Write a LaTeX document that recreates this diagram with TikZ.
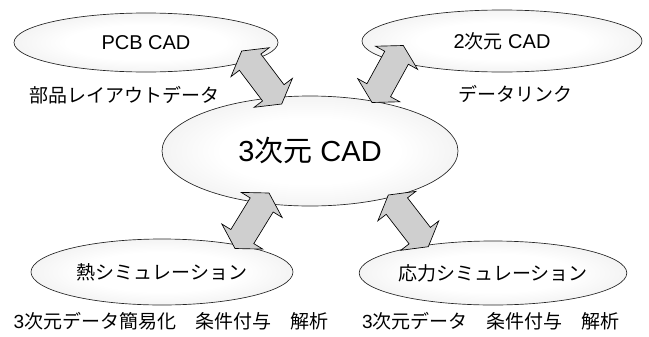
\documentclass[tikz,border=0pt]{standalone}
\usepackage{fontspec}
\setmainfont{Liberation Sans}
\newfontfamily\jp{Noto Sans CJK JP}
\usetikzlibrary{calc,shapes.geometric}
\pgfdeclareradialshading{ellsh}{\pgfpoint{0bp}{0bp}}{color(0bp)=(white);color(15bp)=(white);color(38bp)=(black!10);color(50bp)=(black!27)}
\def\arrhl{10.5pt}
\def\arrhw{18pt}
\def\arrsw{10.1pt}
\newcommand\dblarr[2]{%
  \coordinate (#1-#2-p) at ($(#1)!\arrhl!(#2)$);
  \coordinate (#1-#2-q) at ($(#2)!\arrhl!(#1)$);
  \draw[arrbody] (#1) -- ($(#1-#2-p)!\arrhw!90:(#2)$) -- ($(#1-#2-p)!\arrsw!90:(#2)$)
    -- ($(#1-#2-q)!\arrsw!-90:(#1)$) -- ($(#1-#2-q)!\arrhw!-90:(#1)$) -- (#2)
    -- ($(#1-#2-q)!\arrhw!90:(#1)$) -- ($(#1-#2-q)!\arrsw!90:(#1)$)
    -- ($(#1-#2-p)!\arrsw!-90:(#2)$) -- ($(#1-#2-p)!\arrhw!-90:(#2)$) -- cycle;
}
\tikzset{
  ell/.style={ellipse, draw=black!85, line width=0.5pt, shading=ellsh, inner sep=0pt,
    font=\fontsize{14.25pt}{17pt}\selectfont},
  bigell/.style={ell, font=\fontsize{21.75pt}{26pt}\selectfont},
  arrbody/.style={fill=black!19, draw=black, line width=0.5pt, line join=miter},
  lab/.style={inner sep=0pt, font=\fontsize{14.25pt}{17pt}\selectfont}
}
\begin{document}
\begin{tikzpicture}[x=0.75pt, y=-0.75pt]
\useasboundingbox (0,0) rectangle (649,336);
% ellipses
\node[ell, minimum width=198pt, minimum height=44.25pt] (pcb) at (146,42.5) {\fontsize{15pt}{17pt}\selectfont PCB CAD};
\node[ell, minimum width=210pt, minimum height=46.5pt] (cad2) at (502,41) {\fontsize{15pt}{17pt}\selectfont 2{\jp\fontsize{14.25pt}{17pt}\selectfont 次元} CAD};
\node[bigell, minimum width=222pt, minimum height=82.5pt] (cad3) at (310,151) {3{\jp 次元} CAD};
\node[ell, minimum width=196.5pt, minimum height=49.5pt] (heat) at (162,272) {\jp 熱シミュレーション};
\node[ell, minimum width=198pt, minimum height=48pt] (stress) at (493,273) {\jp 応力シミュレーション};
% arrow end points
\coordinate (a1s) at (241.7,51);
\coordinate (a1e) at (281.7,104);
\coordinate (a2s) at (403.3,45.5);
\coordinate (a2e) at (372,102.5);
\coordinate (a3s) at (269,193);
\coordinate (a3e) at (235,248.5);
\coordinate (a4s) at (388.3,195);
\coordinate (a4e) at (428.3,246.7);
\dblarr{a1s}{a1e}
\dblarr{a2s}{a2e}
\dblarr{a3s}{a3e}
\dblarr{a4s}{a4e}
% labels
\node[lab] (l1) at (124,95) {\jp 部品レイアウトデータ};
\node[lab] (l2) at (515,94) {\jp データリンク};
\node[lab] (l3) at (171,321) {3{\jp 次元データ簡易化　条件付与　解析}};
\node[lab] (l4) at (491,321) {3{\jp 次元データ　条件付与　解析}};
\end{tikzpicture}
\end{document}
